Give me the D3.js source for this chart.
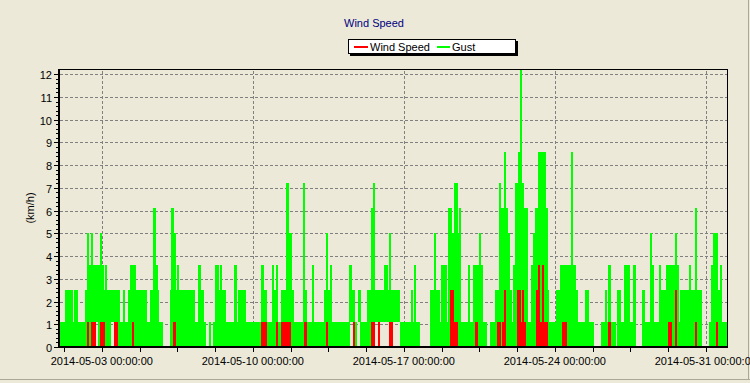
<!DOCTYPE html>
<html>
<head>
<meta charset="utf-8">
<script src="https://cdn.jsdelivr.net/npm/d3@7"></script>
<style>
  html, body { margin: 0; padding: 0; background: #ECE9D8; }
  svg { display: block; }
  text { font-family: "Liberation Sans", Arial, sans-serif; font-size: 11px; }
</style>
</head>
<body>
<svg id="chart" width="750" height="383"></svg>
<script>
// ---- data (2-hour slots from 2014-05-01 00:00, 12 per day) ----
const title = "Wind Speed";
const yLabel = "(km/h)";
const seriesNames = ["Wind Speed", "Gust"];
const seriesColors = ["#FF0000", "#00FF00"];
const startDate = "2014-05-01T00:00:00Z";
const endDate = "2014-06-01T00:00:00Z";
const slotHours = 2;
const yTicks = [0,1,2,3,4,5,6,7,8,9,10,11,12];
const xLabelDates = ["2014-05-03T00:00:00Z","2014-05-10T00:00:00Z","2014-05-17T00:00:00Z","2014-05-24T00:00:00Z","2014-05-31T00:00:00Z"];
const xLabels = ["2014-05-03 00:00:00","2014-05-10 00:00:00","2014-05-17 00:00:00","2014-05-24 00:00:00","2014-05-31 00:00:00"];
const xMinorTickStart = "2014-05-01T06:00:00Z";
const xMinorTickHours = 42;

const gustMax = [
 1.1,1.1,1.1,1.1,2.5,2.5,2.5,2.5,1.1,2.5,2.5,1.1,
 1.1,1.1,1.1,2.5,5.0,3.6,5.0,3.6,3.6,3.6,3.6,5.0,
 3.6,2.5,3.6,2.5,2.5,2.5,2.5,2.5,2.5,2.5,1.1,1.1,
 2.5,1.1,1.1,2.5,3.6,3.6,3.6,2.5,2.5,2.5,2.5,2.5,
 2.5,1.1,1.1,2.5,2.5,6.1,3.6,2.5,1.1,1.1,0,0,
 0,0,2.5,6.1,5.0,2.5,3.6,2.5,2.5,2.5,2.5,2.5,
 2.5,2.5,2.5,2.5,1.1,1.1,3.6,2.5,2.5,1.1,0,0,
 1.1,0,1.1,3.6,3.6,2.5,3.6,2.5,2.5,1.1,1.1,1.1,
 1.1,1.1,3.6,1.1,2.5,2.5,2.5,2.5,1.1,1.1,1.1,1.1,
 1.1,1.1,1.1,1.1,1.1,3.6,2.5,2.5,1.1,1.1,1.1,3.6,
 2.5,3.6,1.1,1.1,2.5,2.5,2.5,7.2,5.0,5.0,2.5,1.1,
 1.1,1.1,1.1,1.1,7.2,2.5,1.1,1.1,1.1,3.6,1.1,1.1,
 1.1,1.1,1.1,1.1,2.5,5.0,2.5,3.6,1.1,1.1,1.1,1.1,
 1.1,1.1,1.1,1.1,1.1,1.1,3.6,2.5,2.5,1.1,1.1,2.5,
 1.1,1.1,1.1,1.1,2.5,2.5,6.1,7.2,2.5,2.5,2.5,2.5,
 2.5,3.6,3.6,2.5,5.0,2.5,2.5,2.5,2.5,2.5,1.1,1.1,
 1.1,1.1,1.1,1.1,2.5,1.1,3.6,1.1,1.1,0,0,0,
 0,0,0,2.5,2.5,5.0,2.5,2.5,1.1,3.6,3.6,3.6,
 1.1,6.1,6.1,5.0,7.2,7.2,5.0,6.1,1.1,1.1,1.1,1.1,
 3.6,1.1,1.1,3.6,3.6,3.6,5.0,3.6,1.1,1.1,0,0,
 1.1,1.1,1.1,2.5,2.5,7.2,6.1,6.1,8.6,6.1,5.0,2.5,
 1.1,3.6,7.2,7.2,8.6,12.2,7.2,6.1,6.1,1.1,1.1,3.6,
 5.0,6.1,6.1,8.6,8.6,8.6,8.6,6.1,2.5,1.1,1.1,1.1,
 1.1,2.5,2.5,3.6,3.6,3.6,3.6,3.6,3.6,8.6,3.6,3.6,
 2.5,1.1,1.1,1.1,1.1,2.5,2.5,1.1,1.1,1.1,0,0,
 0,0,1.1,1.1,2.5,1.1,3.6,1.1,1.1,1.1,0,2.5,
 2.5,1.1,1.1,3.6,3.6,3.6,1.1,1.1,3.6,0,0,0,
 0,2.5,1.1,1.1,1.1,5.0,3.6,1.1,1.1,1.1,3.6,2.5,
 2.5,2.5,3.6,3.6,3.6,3.6,3.6,5.0,3.6,1.1,2.5,2.5,
 2.5,2.5,2.5,3.6,2.5,2.5,6.1,2.5,2.5,2.5,0,0,
 0,0,1.1,3.6,5.0,5.0,5.0,2.5,3.6,1.1,1.1,1.1
];

const gustMin = [
 0,0,0,0,0,0,0,0,0,0,0,0,
 0,0,0,0,0,0,0,0,0,1.1,0,0,
 0,0,0,0,0,1.1,1.1,0,0,0,0,0,
 0,0,0,0,0,0,0,0,0,0,0,0,
 0,0,0,0,0,0,0,0,0,0,0,0,
 0,0,0,0,0,0,0,0,0,0,0,0,
 0,0,0,0,0,0,0,0,0,0,0,0,
 0,0,0,0,0,0,0,0,0,0,0,0,
 0,0,0,0,0,0,0,0,0,0,0,0,
 0,0,0,0,0,0,0,0,0,0,0,0,
 0,0,0,0,0,0,0,0,0,0,0,0,
 0,0,0,0,0,0,0,0,0,0,0,0,
 0,0,0,0,0,0,0,0,0,0,0,0,
 0,0,0,0,0,0,1.1,1.1,0,0,1.1,1.1,
 0,0,0,0,0,0,0,0,1.1,1.1,1.1,1.1,
 1.1,1.1,1.1,1.1,0,0,1.1,1.1,1.1,1.1,0,0,
 0,0,0,0,0,0,0,0,0,0,0,0,
 0,0,0,0,0,0,0,0,0,0,0,0,
 0,0,0,0,0,0,0,0,0,0,0,0,
 0,0,0,0,0,0,0,0,0,0,0,0,
 0,0,0,0,0,0,0,0,0,0,0,0,
 0,0,0,0,0,0,0,0,0,0,0,0,
 0,0,0,0,0,0,0,0,0,0,0,0,
 0,0,0,0,0,0,0,0,0,0,0,0,
 0,0,0,0,0,0,0,0,0,0,0,0,
 0,0,0,0,0,0,0,0,0,0,0,0,
 0,0,0,0,0,0,0,0,0,0,0,0,
 0,0,0,0,0,0,0,0,0,0,0,0,
 0,0,0,0,0,0,0,0,0,0,0,0,
 0,0,0,0,0,0,0,0,0,0,0,0,
 0,0,0,0,0,0,0,0,0,0,0,0
];

const windSpeed = [
 0,0,0,0,0,0,0,0,0,0,0,0,
 0,0,0,0,1.1,0,1.1,1.1,1.1,0,0,1.1,
 1.1,1.1,0,0,0,0,0,1.1,1.1,0,0,0,
 0,0,0,0,0,1.1,0,0,0,0,0,0,
 0,0,0,0,0,0,0,0,0,0,0,0,
 0,0,0,0,1.1,0,0,0,0,0,0,0,
 0,0,0,0,0,0,0,0,0,0,0,0,
 0,0,0,0,0,0,0,0,0,0,0,0,
 0,0,0,0,0,0,0,0,0,0,0,0,
 0,0,0,0,0,1.1,1.1,1.1,0,0,0,0,
 0,1.1,0,0,1.1,1.1,1.1,1.1,1.1,0,0,0,
 0,0,0,0,0,1.1,0,0,0,0,0,0,
 0,0,0,0,0,1.1,0,0,0,0,0,0,
 0,0,0,0,0,0,0,0,1.1,0,0,0,
 0,0,0,0,0,0,1.1,1.1,0,0,1.1,0,
 0,0,0,0,1.1,1.1,0,0,0,0,0,0,
 0,0,0,0,0,0,0,0,0,0,0,0,
 0,0,0,0,0,0,0,0,0,0,0,0,
 0,0,2.5,2.5,1.1,1.1,0,0,0,0,0,0,
 0,0,0,0,1.1,0,0,0,0,0,0,0,
 0,0,0,0,1.1,1.1,0,1.1,2.5,0,0,0,
 0,0,0,2.5,2.5,1.1,2.5,1.1,0,0,0,0,
 0,0,2.5,3.6,1.1,3.6,1.1,1.1,0,0,0,0,
 0,0,0,0,1.1,1.1,1.1,0,0,0,0,0,
 0,0,0,0,0,0,0,0,0,0,0,0,
 0,0,0,0,0,0,1.1,0,0,0,0,0,
 0,0,0,0,0,0,0,0,0,0,0,0,
 0,0,0,0,0,0,0,0,0,0,0,0,
 0,0,0,1.1,1.1,0,0,2.5,0,0,0,0,
 0,0,0,0,0,0,1.1,0,0,0,0,0,
 0,0,0,0,0,0,1.1,0,0,0,0,0
];

// ---- layout ----
const svg = d3.select("#chart");
const W = 750, H = 383;
const plot = { left: 58.7, right: 727.4, top: 69.7, bottom: 347 };

const t0 = new Date(startDate), t1 = new Date(endDate);
const x = d3.scaleUtc().domain([t0, t1]).range([plot.left, plot.right]);
const y = d3.scaleLinear().domain([0, 12.2]).range([plot.bottom, plot.top]);

const slotTime = i => d3.utcHour.offset(t0, i * slotHours);
function toSlots(hi, lo) {
  return hi.map((v, i) => ({ t: slotTime(i), t2: slotTime(i + 1), hi: v, lo: lo ? lo[i] : 0 }))
    .filter(d => d.hi > d.lo);
}
const gustSlots = toSlots(gustMax, gustMin);
const windSlots = toSlots(windSpeed, null);

// outer frame lines
svg.append("line").attr("x1", 0).attr("x2", W).attr("y1", 379.5).attr("y2", 379.5)
  .attr("stroke", "#ACA899").attr("stroke-width", 1);
svg.append("line").attr("x1", 748.5).attr("x2", 748.5).attr("y1", 0).attr("y2", 380)
  .attr("stroke", "#ACA899").attr("stroke-width", 1);

// clip
svg.append("clipPath").attr("id", "clip").append("rect")
  .attr("x", 60).attr("y", 70)
  .attr("width", 727 - 60).attr("height", 346 - 70);

// grid
const grid = svg.append("g").attr("stroke", "#808080").attr("stroke-width", 1)
  .attr("stroke-dasharray", "3,2").attr("shape-rendering", "crispEdges");
yTicks.filter(v => v > 0).forEach(v => {
  grid.append("line").attr("x1", 60).attr("x2", plot.right)
    .attr("y1", Math.round(y(v)) + 0.5).attr("y2", Math.round(y(v)) + 0.5);
});
xLabelDates.forEach(d => {
  const xx = Math.round(x(new Date(d))) + 0.5;
  grid.append("line").attr("x1", xx).attr("x2", xx).attr("y1", plot.top + 1).attr("y2", plot.bottom - 1);
});

// series as pixel-snapped slot rectangles
function drawSlots(g, slots, color) {
  g.selectAll(null).data(slots).enter().append("rect")
    .attr("x", d => Math.floor(x(d.t)))
    .attr("width", d => Math.max(2, Math.round(x(d.t2)) - Math.floor(x(d.t))))
    .attr("y", d => Math.round(y(d.hi)))
    .attr("height", d => Math.round(y(d.lo)) - Math.round(y(d.hi)))
    .attr("fill", color);
}
const dataG = svg.append("g").attr("clip-path", "url(#clip)").attr("shape-rendering", "crispEdges");
drawSlots(dataG.append("g"), gustSlots, seriesColors[1]);
drawSlots(dataG.append("g"), windSlots, seriesColors[0]);

// frame
const frame = svg.append("g").attr("shape-rendering", "crispEdges");
frame.append("line").attr("x1", plot.left).attr("x2", 727.5).attr("y1", 69.5).attr("y2", 69.5)
  .attr("stroke", "#000").attr("stroke-width", 1);
frame.append("line").attr("x1", 727.5).attr("x2", 727.5).attr("y1", 69.5).attr("y2", 348)
  .attr("stroke", "#000").attr("stroke-width", 1);
frame.append("rect").attr("x", 58).attr("y", 69).attr("width", 2).attr("height", 279).attr("fill", "#000");
frame.append("rect").attr("x", 58).attr("y", 346).attr("width", 670).attr("height", 2).attr("fill", "#000");

// y ticks and labels
const yAxisG = svg.append("g");
d3.range(0, 12.01, 0.2).forEach(v => {
  const yy = Math.round(y(v)) + 0.5;
  yAxisG.append("line").attr("x1", 56).attr("x2", 58).attr("y1", yy).attr("y2", yy)
    .attr("stroke", "#000").attr("shape-rendering", "crispEdges");
});
yTicks.forEach(v => {
  const yy = Math.round(y(v)) + 0.5;
  yAxisG.append("line").attr("x1", 54).attr("x2", 58).attr("y1", yy).attr("y2", yy)
    .attr("stroke", "#000").attr("shape-rendering", "crispEdges");
  yAxisG.append("text").attr("x", 52).attr("y", yy + 4).attr("text-anchor", "end")
    .attr("fill", "#000").text(v);
});

// x ticks
const minorStart = new Date(xMinorTickStart);
for (let t = minorStart; t <= t1; t = d3.utcHour.offset(t, xMinorTickHours)) {
  const xx = Math.round(x(t)) + 0.5;
  svg.append("line").attr("x1", xx).attr("x2", xx).attr("y1", 348).attr("y2", 352)
    .attr("stroke", "#000").attr("shape-rendering", "crispEdges");
}
xLabelDates.forEach((d, i) => {
  svg.append("text").attr("x", x(new Date(d))).attr("y", 365)
    .attr("text-anchor", "middle").attr("fill", "#000").text(xLabels[i]);
});

// y label
svg.append("text").attr("transform", "translate(34,208) rotate(-90)")
  .attr("text-anchor", "middle").attr("fill", "#000").text(yLabel);

// title
svg.append("text").attr("x", 374).attr("y", 27).attr("text-anchor", "middle")
  .attr("fill", "#000080").text(title);

// legend
const lg = svg.append("g").attr("shape-rendering", "crispEdges");
lg.append("rect").attr("x", 350).attr("y", 41).attr("width", 168).attr("height", 15).attr("fill", "#000");
lg.append("rect").attr("x", 348.5).attr("y", 39.5).attr("width", 167).attr("height", 14)
  .attr("fill", "#fff").attr("stroke", "#000").attr("stroke-width", 1);
const legendItems = [
  { name: seriesNames[0], color: seriesColors[0], x1: 354, x2: 368, tx: 370 },
  { name: seriesNames[1], color: seriesColors[1], x1: 437, x2: 450, tx: 452 }
];
legendItems.forEach(it => {
  lg.append("rect").attr("x", it.x1).attr("y", 46).attr("width", it.x2 - it.x1).attr("height", 2).attr("fill", it.color);
  svg.append("text").attr("x", it.tx).attr("y", 51).attr("fill", "#000").text(it.name);
});
</script>
</body>
</html>
